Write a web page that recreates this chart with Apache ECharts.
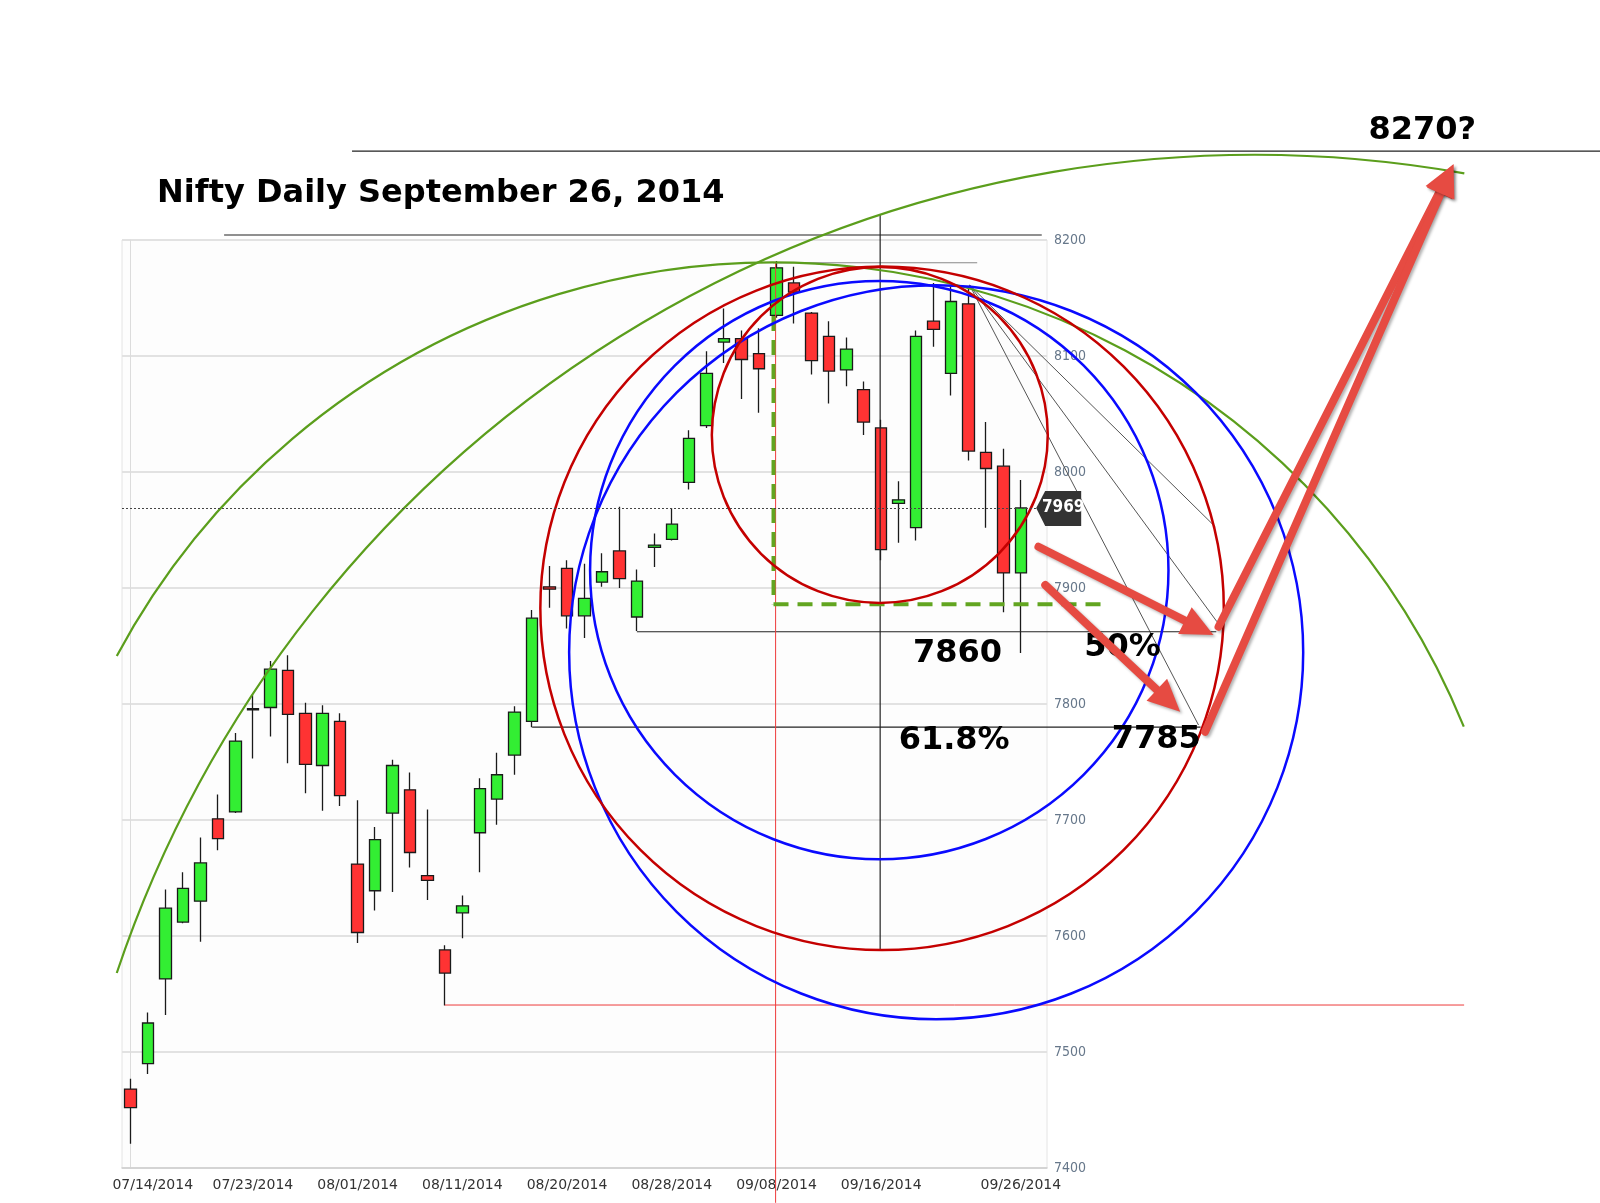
<!DOCTYPE html>
<html>
<head>
<meta charset="utf-8">
<title>Nifty Daily September 26, 2014</title>
<script src="https://cdn.jsdelivr.net/npm/echarts@6/dist/echarts.min.js"></script>
<style>
  html, body { margin: 0; padding: 0; background: #fff; }
  #chart { width: 1600px; height: 1203px; }
</style>
</head>
<body>
<div id="chart"></div>
<script>
// daily candles, Nifty 14 Jul - 26 Sep 2014
const dates = [
  '07/14/2014', '07/15/2014', '07/16/2014', '07/17/2014', '07/18/2014', '07/21/2014', '07/22/2014',
  '07/23/2014', '07/24/2014', '07/25/2014', '07/28/2014', '07/30/2014', '07/31/2014', '08/01/2014',
  '08/04/2014', '08/05/2014', '08/06/2014', '08/07/2014', '08/08/2014', '08/11/2014', '08/12/2014',
  '08/13/2014', '08/14/2014', '08/18/2014', '08/19/2014', '08/20/2014', '08/21/2014', '08/22/2014',
  '08/25/2014', '08/26/2014', '08/27/2014', '08/28/2014', '09/01/2014', '09/02/2014', '09/03/2014',
  '09/04/2014', '09/05/2014', '09/08/2014', '09/09/2014', '09/10/2014', '09/11/2014', '09/12/2014',
  '09/15/2014', '09/16/2014', '09/17/2014', '09/18/2014', '09/19/2014', '09/22/2014', '09/23/2014',
  '09/24/2014', '09/25/2014', '09/26/2014'
];
const opens = [7468, 7490, 7563, 7612, 7630, 7701, 7707, 7795, 7797, 7829, 7792, 7747, 7785, 7662,
  7639, 7706, 7726, 7652, 7588, 7620, 7689, 7718, 7756, 7785, 7901, 7917, 7876, 7905, 7932, 7875,
  7935, 7942, 7991, 8040, 8112, 8115, 8102, 8135, 8163, 8137, 8117, 8088, 8071, 8038, 7973, 7952,
  8130, 8085, 8145, 8017, 8005, 7913];
const closes = [7452, 7525, 7624, 7641, 7663, 7684, 7768, 7796, 7830, 7791, 7748, 7792, 7721, 7603,
  7683, 7747, 7672, 7648, 7568, 7626, 7727, 7739, 7793, 7874, 7899, 7876, 7891, 7914, 7908, 7906,
  7937, 7955, 8029, 8085, 8115, 8097, 8089, 8176, 8155, 8096, 8087, 8106, 8043, 7933, 7976, 8117,
  8123, 8147, 8018, 8003, 7913, 7969];
const lows = [7421, 7481, 7532, 7611, 7595, 7674, 7706, 7753, 7772, 7749, 7723, 7708, 7712, 7594,
  7622, 7638, 7659, 7631, 7540, 7598, 7655, 7696, 7739, 7780, 7883, 7865, 7857, 7901, 7900, 7863,
  7918, 7941, 7985, 8038, 8094, 8063, 8051, 8133, 8128, 8084, 8059, 8074, 8032, 7924, 7939, 7941,
  8108, 8066, 8010, 7952, 7879, 7844];
const highs = [7477, 7534, 7640, 7655, 7685, 7722, 7775, 7808, 7837, 7842, 7801, 7799, 7792, 7717,
  7694, 7752, 7741, 7709, 7592, 7635, 7736, 7758, 7798, 7881, 7919, 7924, 7921, 7930, 7970, 7916,
  7947, 7969, 8036, 8104, 8141, 8122, 8124, 8182, 8177, 8138, 8130, 8116, 8078, 8045, 7992, 8122,
  8163, 8160, 8160, 8043, 8020, 7993];
const labelIndexes = [0, 7, 13, 19, 25, 31, 37, 43, 51];
const priceMin = 7400;
const priceMax = 8200;
const priceStep = 100;
const lastClose = 7969;

// drawn annotations, in (bar index, price)
// circles: centre x, centre price, price of top of circle
const redCircles = [[42.92, 8031.9, 8176.7], [43.05, 7882.5, 8177.1]];
const blueCircles = [[42.89, 7915.4, 8164.7], [46.15, 7844.6, 8161.0]];
// arcs: centre x, centre price, start x, start price, end x, end price
const greenArcs = [
  [64.40, 7238.5, -0.80, 7568.1, 76.41, 8257.3],
  [36.84, 7538.4, -0.80, 7841.4, 76.37, 7780.4]
];
// segments: x1, p1, x2, p2
const blackLines = [
  [12.68, 8276.7, 84.2, 8276.7],
  [5.35, 8204.3, 52.2, 8204.3],
  [29, 7862.3, 62.2, 7862.3],
  [23, 7780, 61.3, 7780],
  [42.94, 8222, 42.94, 7588]
];
const highLine = [[36.8, 8180.4, 48.5, 8180.4]];
const fanLines = [
  [48.06, 8161.2, 62.14, 7952.8],
  [48.06, 8161.2, 62.24, 7870.9],
  [48.06, 8161.2, 61.18, 7781.9]
];
const redLines = [
  [18, 7540.5, 76.4, 7540.5],
  [36.95, 8180, 36.95, 7370]
];
const dashedBox = [
  [36.83, 8134.5, 36.83, 7885.9],
  [36.83, 7885.9, 56.0, 7885.9]
];
const arrows = [
  [52.01, 7935.6, 62.04, 7859.5],
  [52.40, 7902.6, 60.13, 7793.4],
  [62.33, 7866.6, 75.79, 8265.3],
  [61.56, 7776.1, 75.79, 8265.3]
];
const noteTexts = ['8270?', '7860', '50%', '61.8%', '7785'];
const notePos = [[74.0, 8294], [47.37, 7843], [56.83, 7848.3], [47.18, 7768], [58.76, 7769]];
const tagPos = [[51.88, lastClose]];

const candles = dates.map((d, i) => [opens[i], closes[i], lows[i], highs[i]]);

const arrowColor = '#e64b42';
const narrowFont = '"Liberation Sans Narrow", "DejaVu Sans Condensed", "Roboto Condensed", Roboto, sans-serif';

function circleRenderer(color) {
  return function (params, api) {
    const c = api.coord([api.value(0), api.value(1)]);
    const top = api.coord([api.value(0), api.value(2)]);
    return {
      type: 'circle',
      shape: { cx: c[0], cy: c[1], r: Math.abs(c[1] - top[1]) },
      style: { fill: 'none', stroke: color, lineWidth: 2.5 }
    };
  };
}

function renderArc(params, api) {
  const c = api.coord([api.value(0), api.value(1)]);
  const s = api.coord([api.value(2), api.value(3)]);
  const e = api.coord([api.value(4), api.value(5)]);
  const r = Math.hypot(s[0] - c[0], s[1] - c[1]);
  const a0 = Math.atan2(s[1] - c[1], s[0] - c[0]);
  let a1 = Math.atan2(e[1] - c[1], e[0] - c[0]);
  if (a1 < a0) a1 += Math.PI * 2;
  return {
    type: 'arc',
    shape: { cx: c[0], cy: c[1], r: r, startAngle: a0, endAngle: a1, clockwise: true },
    style: { fill: 'none', stroke: '#5b9e1c', lineWidth: 2.2 }
  };
}

function segmentRenderer(color, width, dash) {
  return function (params, api) {
    const a = api.coord([api.value(0), api.value(1)]);
    const b = api.coord([api.value(2), api.value(3)]);
    return {
      type: 'line',
      shape: { x1: a[0], y1: a[1], x2: b[0], y2: b[1] },
      style: { stroke: color, lineWidth: width, lineDash: dash || null }
    };
  };
}

function renderArrow(params, api) {
  const a = api.coord([api.value(0), api.value(1)]);
  const b = api.coord([api.value(2), api.value(3)]);
  const len = Math.hypot(b[0] - a[0], b[1] - a[1]);
  const ux = (b[0] - a[0]) / len, uy = (b[1] - a[1]) / len;
  const headLen = 32, half = 15;
  const hx = b[0] - ux * headLen, hy = b[1] - uy * headLen;
  const shadow = { shadowBlur: 3, shadowColor: 'rgba(0,0,0,0.3)', shadowOffsetX: 2, shadowOffsetY: 2 };
  return {
    type: 'group',
    children: [
      {
        type: 'line',
        shape: { x1: a[0], y1: a[1], x2: hx + ux * 4, y2: hy + uy * 4 },
        style: Object.assign({ stroke: arrowColor, lineWidth: 8, lineCap: 'round' }, shadow)
      },
      {
        type: 'polygon',
        shape: { points: [[b[0], b[1]], [hx - uy * half, hy + ux * half], [hx + uy * half, hy - ux * half]] },
        style: Object.assign({ fill: arrowColor }, shadow)
      }
    ]
  };
}

function renderNote(params, api) {
  const p = api.coord([api.value(0), api.value(1)]);
  return {
    type: 'text',
    style: {
      text: noteTexts[params.dataIndex],
      x: p[0], y: p[1],
      align: 'center', verticalAlign: 'middle',
      fill: '#000', fontSize: 32, fontWeight: 'bold', fontFamily: 'DejaVu Sans'
    }
  };
}

function renderTag(params, api) {
  const p = api.coord([api.value(0), api.value(1)]);
  const x = p[0], y = p[1];
  return {
    type: 'group',
    children: [
      {
        type: 'polygon',
        shape: { points: [[x, y], [x + 9, y - 17], [x + 45, y - 17], [x + 45, y + 18], [x + 9, y + 18]] },
        style: { fill: '#333' }
      },
      {
        type: 'text',
        style: {
          text: String(lastClose), x: x + 27, y: y,
          align: 'center', verticalAlign: 'middle',
          fill: '#fff', fontSize: 17, fontWeight: 'bold', fontFamily: narrowFont
        }
      }
    ]
  };
}

function overlay(name, data, renderItem, z) {
  return { name: name, type: 'custom', xAxisIndex: 1, yAxisIndex: 0, data: data, renderItem: renderItem, z: z, silent: true };
}

const chart = echarts.init(document.getElementById('chart'));

chart.setOption({
  animation: false,
  backgroundColor: '#fff',
  title: {
    text: 'Nifty Daily September 26, 2014',
    left: 152,
    top: 173,
    textStyle: { fontSize: 32, fontWeight: 'bold', fontFamily: 'DejaVu Sans', color: '#000' }
  },
  grid: {
    left: 122, right: 553, top: 240, bottom: 35,
    show: true, backgroundColor: '#fdfdfd', borderColor: '#e4e4e4', borderWidth: 1
  },
  xAxis: [
    {
      type: 'category',
      data: dates,
      max: 52,
      boundaryGap: true,
      axisLine: { lineStyle: { color: '#cfcfcf', width: 1.5 } },
      axisTick: { show: false },
      splitLine: { show: false },
      axisLabel: {
        interval: (index) => labelIndexes.includes(index),
        margin: 10,
        color: '#333',
        fontSize: 14,
        fontFamily: 'DejaVu Sans',
        formatter: (value, index) => (index === 0 ? '{first|' + value + '}' : value),
        rich: { first: { padding: [0, 0, 0, 44], color: '#333', fontSize: 14, fontFamily: 'DejaVu Sans' } }
      }
    },
    { type: 'value', min: -0.5, max: 52.5, show: false }
  ],
  yAxis: {
    type: 'value',
    position: 'right',
    min: priceMin,
    max: priceMax,
    interval: priceStep,
    axisLine: { show: true, lineStyle: { color: '#dcdcdc' } },
    axisTick: { show: false },
    splitLine: { lineStyle: { color: '#e2e2e2', width: 2 } },
    axisLabel: {
      margin: 7, color: '#66778a', fontSize: 14, fontFamily: narrowFont,
      formatter: (v) => String(v)
    }
  },
  series: [
    {
      name: 'Nifty',
      type: 'candlestick',
      xAxisIndex: 0,
      yAxisIndex: 0,
      data: candles,
      barWidth: 12,
      itemStyle: {
        color: '#33ee33', color0: '#ff3333',
        borderColor: '#1a1a1a', borderColor0: '#1a1a1a', borderColorDoji: '#1a1a1a',
        borderWidth: 1.3
      },
      markLine: {
        silent: true,
        symbol: ['none', 'none'],
        label: { show: false },
        lineStyle: { color: '#444', type: [2, 2], width: 1 },
        data: [{ yAxis: lastClose }]
      }
    },
    overlay('fan', fanLines, segmentRenderer('#555', 1), 3),
    overlay('high', highLine, segmentRenderer('#888', 1.2), 3),
    overlay('levels', blackLines, segmentRenderer('#222', 1.2), 3),
    overlay('red lines', redLines, segmentRenderer('#ee3b3b', 1), 3),
    overlay('box', dashedBox, segmentRenderer('#62a520', 4, [15, 9]), 3),
    overlay('green arcs', greenArcs, renderArc, 4),
    overlay('blue circles', blueCircles, circleRenderer('#0a0aff'), 4),
    overlay('red circles', redCircles, circleRenderer('#c40000'), 4),
    overlay('notes', notePos, renderNote, 5),
    overlay('tag', tagPos, renderTag, 5),
    overlay('arrows', arrows, renderArrow, 6)
  ]
});
</script>
</body>
</html>
